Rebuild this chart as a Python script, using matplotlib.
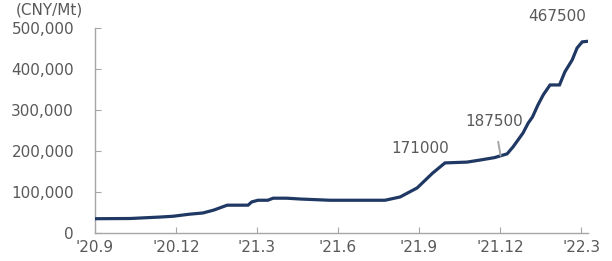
import matplotlib
matplotlib.use('Agg')
import matplotlib.pyplot as plt

# months since Sep 2020, price in CNY/Mt
months = [0.0, 1.3, 2.4, 2.9, 3.5, 4.0, 4.4, 4.9, 5.67, 5.81, 6.04, 6.4, 6.6,
          7.1, 7.6, 8.7, 10.74, 11.3, 11.93, 12.5, 12.96, 13.78, 14.26, 14.8,
          15.0, 15.26, 15.48, 15.85, 16.04, 16.2, 16.4, 16.6, 16.85, 17.2,
          17.4, 17.67, 17.85, 18.04, 18.26]
price = [35000, 35500, 39000, 41000, 46000, 49000, 56000, 68000, 68000, 76000,
         80000, 80000, 85000, 85000, 83000, 80000, 80000, 88000, 110000,
         146000, 171000, 173000, 178000, 184000, 188000, 193000, 210000,
         244000, 268000, 283000, 312000, 337000, 361000, 361000, 393000,
         422000, 451000, 466000, 467500]

tick_pos = [0, 3, 6, 9, 12, 15, 18]
tick_labels = ["'20.9", "'20.12", "'21.3", "'21.6", "'21.9", "'21.12", "'22.3"]

TXT = '#595959'
AXC = '#A6A6A6'
LINE = '#1F3864'
FS = 11

fig = plt.figure(figsize=(6.12, 2.61), dpi=100)
ax = fig.add_axes([0.155, 0.107, 0.806, 0.786])

ax.plot(months, price, color=LINE, lw=2.3, solid_joinstyle='miter', zorder=3)

ax.set_xlim(0, 18.26)
ax.set_ylim(0, 500000)
ax.set_yticks(range(0, 500001, 100000))
ax.set_yticklabels([f'{v:,}' for v in range(0, 500001, 100000)])
ax.set_xticks(tick_pos)
ax.set_xticklabels(tick_labels)

for s in ['top', 'right']:
    ax.spines[s].set_visible(False)
for s in ['left', 'bottom']:
    ax.spines[s].set_color(AXC)
    ax.spines[s].set_linewidth(1.0)
ax.tick_params(axis='both', direction='in', length=4, color=AXC,
               labelcolor=TXT, labelsize=FS)
ax.tick_params(axis='y', pad=15)
ax.tick_params(axis='x', pad=5)

fig.text(0.026, 0.96, '(CNY/Mt)', color=TXT, fontsize=FS, va='center')

ax.text(17.1, 527000, '467500', color=TXT, fontsize=FS, ha='center',
        va='center', clip_on=False)
ax.text(12.04, 205000, '171000', color=TXT, fontsize=FS, ha='center',
        va='center')
ax.annotate('187500', xy=(15.02, 189000), xytext=(14.8, 271000),
            color=TXT, fontsize=FS, ha='center', va='center',
            arrowprops=dict(arrowstyle='-', color='#A6A6A6', lw=1.4,
                            shrinkA=7, shrinkB=0))

fig.savefig('out.png', dpi=100)
